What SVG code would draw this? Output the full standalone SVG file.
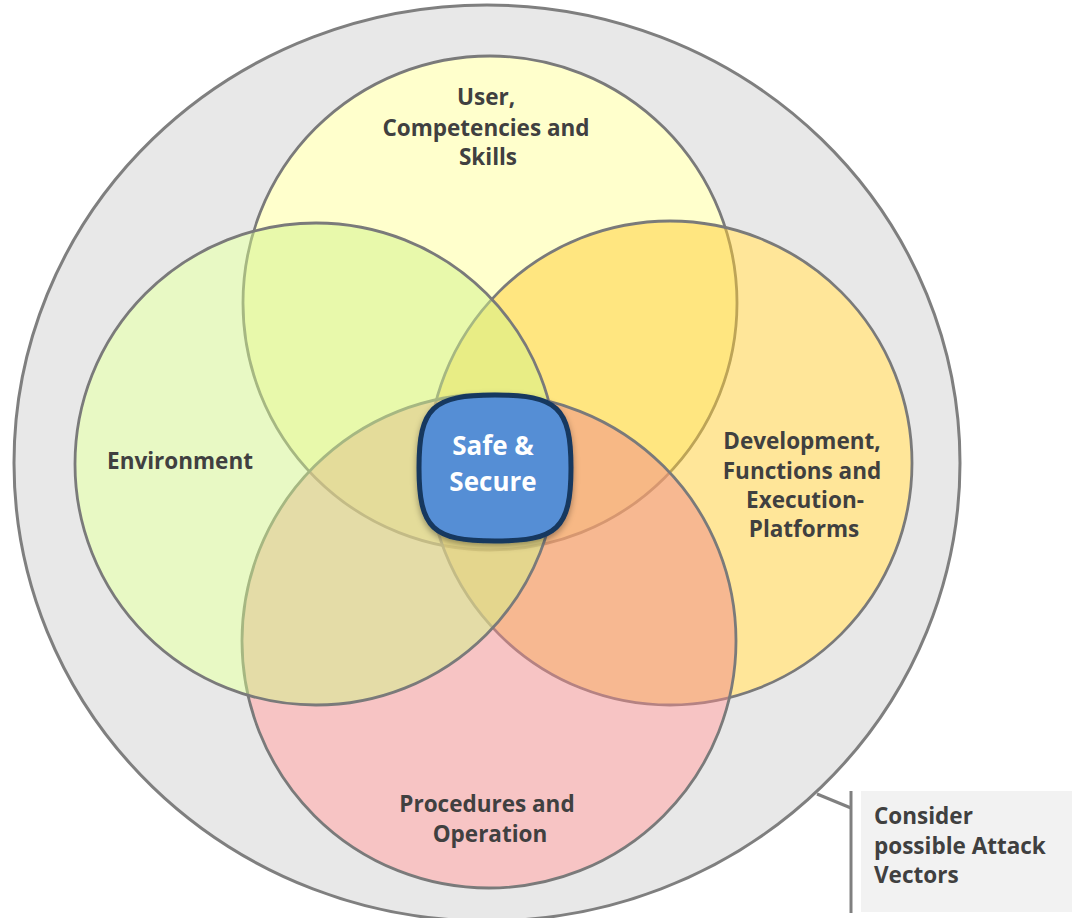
<svg xmlns="http://www.w3.org/2000/svg" width="1072" height="918" viewBox="0 0 1072 918">
  <defs>
    <style>
      .ring { fill: #e8e8e8; stroke: #7f7f7f; stroke-width: 3; }
      .base { fill: #ffffff; stroke: none; }
      .set { fill-opacity: 0.5; stroke: #7a7a7a; stroke-width: 2.8; }
      .label { font-family: "Open Sans", "Liberation Sans", sans-serif; font-weight: 700; font-size: 22.5px; fill: #404040; text-anchor: middle; }
      .core-text { font-family: "Open Sans", "Liberation Sans", sans-serif; font-weight: 700; font-size: 26px; fill: #ffffff; text-anchor: middle; }
      .note { font-family: "Open Sans", "Liberation Sans", sans-serif; font-weight: 700; font-size: 22.5px; fill: #404040; }
      .callout { fill: none; stroke: #808080; stroke-width: 3; }
    </style>
    <filter id="shadow" x="-20%" y="-20%" width="140%" height="150%">
      <feDropShadow dx="0" dy="3" stdDeviation="3" flood-color="#000000" flood-opacity="0.35"/>
    </filter>
  </defs>

  <!-- outer boundary -->
  <g id="boundary">
    <ellipse class="ring" cx="487" cy="463" rx="473" ry="458"/>
    <!-- white underlay so the translucent sets read against white -->
    <circle class="base" cx="490" cy="303" r="247"/>
    <circle class="base" cx="670" cy="463" r="242"/>
    <circle class="base" cx="489" cy="641" r="247"/>
    <circle class="base" cx="316" cy="464" r="241"/>
  </g>

  <g id="user">
    <circle class="set" cx="490" cy="303" r="247" fill="#ffff99"/>
  </g>
  <g id="development">
    <circle class="set" cx="670" cy="463" r="242" fill="#ffcd33"/>
  </g>
  <g id="procedures">
    <circle class="set" cx="489" cy="641" r="247" fill="#ef8989"/>
  </g>
  <g id="environment">
    <circle class="set" cx="316" cy="464" r="241" fill="#d1f389"/>
  </g>

  <g id="labels">
    <text class="label" x="486" y="105">User,</text>
    <text class="label" x="486" y="136">Competencies and</text>
    <text class="label" x="488" y="165">Skills</text>
    <text class="label" x="180" y="469">Environment</text>
    <text class="label" x="802" y="449">Development,</text>
    <text class="label" x="802" y="479">Functions and</text>
    <text class="label" x="805" y="508">Execution-</text>
    <text class="label" x="804" y="537">Platforms</text>
    <text class="label" x="487" y="812">Procedures and</text>
    <text class="label" x="490" y="842">Operation</text>
  </g>

  <g id="safe-secure">
    <path d="M495,395 C557,395 571,407 571,468 C571,529 557,541 495,541 C433,541 419,529 419,468 C419,407 433,395 495,395 Z" fill="#558ed5" stroke="#17375e" stroke-width="5" filter="url(#shadow)"/>
    <text class="core-text" x="493" y="455">Safe &amp;</text>
    <text class="core-text" x="493" y="491">Secure</text>
  </g>

  <g id="connectors">
    <polyline class="callout" points="817,794 851,808"/>
    <line class="callout" x1="851" y1="791" x2="851" y2="913"/>
  </g>

  <g id="attack-note">
    <rect x="861" y="791" width="211" height="121" fill="#f2f2f2"/>
    <text class="note" x="874" y="824">Consider</text>
    <text class="note" x="874" y="854">possible Attack</text>
    <text class="note" x="874" y="883">Vectors</text>
  </g>
</svg>
